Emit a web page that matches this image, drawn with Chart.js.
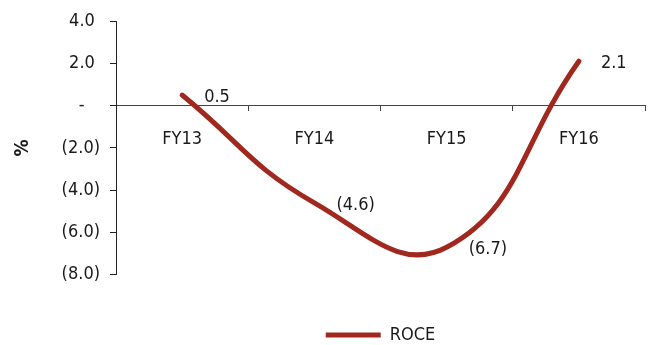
<!DOCTYPE html>
<html>
<head>
<meta charset="utf-8">
<script src="https://cdn.jsdelivr.net/npm/chart.js@4"></script>
<style>
  html, body { margin: 0; padding: 0; background: #fff; }
  #wrap { width: 657px; height: 345px; }
</style>
</head>
<body>
<div id="wrap"><canvas id="roce"></canvas></div>
<script>
const categories = ["FY13", "FY14", "FY15", "FY16"];
const roce = [0.5, -4.6, -6.7, 2.1];
const yTicks = [4, 2, 0, -2, -4, -6, -8];

const FONT = "'Liberation Sans Narrow', 'DejaVu Sans Condensed', 'Arial Narrow', sans-serif";
const LINE_RED = "#a0281f";

// numbers like the source: negatives in brackets, zero as a dash
function fmt(v) {
    if (v === 0) return "-";
    if (v < 0) return "(" + Math.abs(v).toFixed(1) + ")";
    return v.toFixed(1);
}

// axis labels keep the bracket width on the right, like the Excel format
function axisFmt(v) {
    if (v === 0) return "-   ";
    if (v < 0) return fmt(v);
    return fmt(v) + " ";
}

// value labels to the right of every point
const pointLabels = {
    id: "pointLabels",
    afterDatasetsDraw(chart) {
        const ctx = chart.ctx;
        const meta = chart.getDatasetMeta(0);
        ctx.save();
        ctx.font = "18px " + FONT;
        ctx.fillStyle = "#1a1a1a";
        ctx.textAlign = "left";
        ctx.textBaseline = "middle";
        meta.data.forEach((pt, i) => {
            ctx.fillText(fmt(roce[i]), pt.x + 22, pt.y + 2);
        });
        ctx.restore();
    }
};

new Chart(document.getElementById("roce"), {
    type: "line",
    data: {
        labels: categories,
        datasets: [{
            label: "ROCE",
            data: roce,
            borderColor: LINE_RED,
            backgroundColor: LINE_RED,
            borderWidth: 5,
            borderCapStyle: "round",
            tension: 0.45,
            pointRadius: 0,
            clip: false
        }]
    },
    options: {
        responsive: true,
        maintainAspectRatio: false,
        animation: false,
        layout: { padding: { top: 21, right: 12, bottom: -9, left: 0 } },
        scales: {
            x: {
                position: { y: 0 },
                offset: true,
                afterFit(scale) { scale.height = 0; },
                border: { display: true, color: "#444", width: 1 },
                grid: { display: true, drawOnChartArea: false, tickLength: 5, color: "#444", offset: true },
                ticks: { color: "#1a1a1a", font: { family: FONT, size: 18 }, padding: 18, maxRotation: 0 }
            },
            y: {
                min: -8,
                max: 4,
                afterBuildTicks(scale) { scale.ticks = yTicks.map(v => ({ value: v })); },
                afterFit(scale) { scale.width = 116; },
                border: { display: true, color: "#222", width: 1 },
                grid: { display: true, drawOnChartArea: false, tickLength: 6, color: "#222" },
                ticks: {
                    color: "#1a1a1a",
                    font: { family: FONT, size: 18 },
                    padding: 10,
                    callback: v => axisFmt(v)
                },
                title: {
                    display: true,
                    text: "%",
                    color: "#1a1a1a",
                    font: { family: FONT, size: 19, weight: "bold" },
                    padding: { top: 12, bottom: 0 }
                }
            }
        },
        plugins: {
            legend: {
                position: "bottom",
                fullSize: false,
                title: {
                    display: true,
                    text: " ",
                    font: { size: 1 },
                    padding: { top: 50, bottom: 0 }
                },
                labels: {
                    color: "#1a1a1a",
                    font: { family: FONT, size: 18 },
                    usePointStyle: true,
                    pointStyle: "line",
                    pointStyleWidth: 55,
                    boxWidth: 55,
                    padding: 0
                }
            },
            tooltip: { enabled: false }
        }
    },
    plugins: [pointLabels]
});
</script>
</body>
</html>
